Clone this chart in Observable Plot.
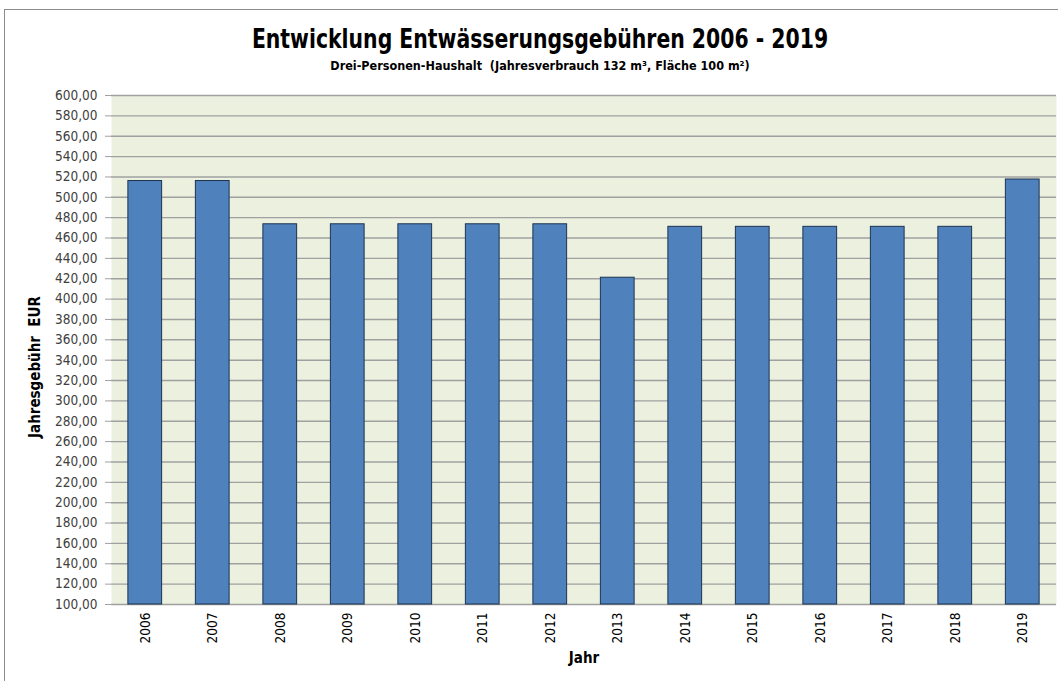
<!DOCTYPE html>
<html><head><meta charset="utf-8">
<script src="https://cdn.jsdelivr.net/npm/d3@7"></script>
<script src="https://cdn.jsdelivr.net/npm/@observablehq/plot@0.6"></script>
<style>
html,body{margin:0;padding:0;background:#fff;overflow:hidden;}
#wrap{position:relative;width:1058px;height:681px;}
#frame{position:absolute;left:4px;top:9px;width:1200px;height:800px;border-left:1.5px solid #8c8c8c;border-top:1.5px solid #8c8c8c;}
.ttl{position:absolute;left:0;width:1080px;text-align:center;font-family:"DejaVu Sans Condensed","Open Sans",sans-serif;font-weight:bold;color:#000;}
.ttl span{display:inline-block;transform-origin:center;}
#title{top:23px;font-size:27px;}
#title span{transform:scaleX(0.84);}
#sub{top:58px;font-size:12.5px;}
#chart{position:absolute;left:0;top:0;}
</style></head>
<body>
<div id="wrap">
<div id="frame"></div>
<div id="title" class="ttl"><span>Entwicklung Entwässerungsgebühren 2006 - 2019</span></div>
<div id="sub" class="ttl"><span>Drei-Personen-Haushalt&nbsp; (Jahresverbrauch 132 m³, Fläche 100 m²)</span></div>
<div id="chart"></div>
</div>
<script>
const years = ["2006","2007","2008","2009","2010","2011","2012","2013","2014","2015","2016","2017","2018","2019"];
const fees = [516, 516, 473.5, 473.5, 473.5, 473.5, 473.5, 421, 471, 471, 471, 471, 471, 517.5];
const yTicks = d3.range(100, 601, 20);
const yLabel = "Jahresgebühr  EUR";
const xLabel = "Jahr";

const data = years.map((y, i) => ({year: y, fee: fees[i]}));
const fmt = v => d3.format(".2f")(v).replace(".", ",");
const font = `"DejaVu Sans Condensed","Open Sans",sans-serif`;

const chart = Plot.plot({
  width: 1058,
  height: 681,
  marginTop: 95,
  marginBottom: 77,
  marginLeft: 111,
  marginRight: 2,
  style: {fontFamily: font, fontSize: "13.5px", color: "#404040", background: "transparent"},
  x: {domain: years, paddingInner: 0.5, paddingOuter: 0.25, align: 0.5, round: false},
  y: {domain: [100, 600]},
  marks: [
    Plot.frame({fill: "#EBF1DE", stroke: null}),
    Plot.ruleY(yTicks, {stroke: "#a0a0a0", strokeWidth: 1.4}),
    Plot.barY(data, {x: "year", y1: 100, y2: "fee", fill: "#4F81BD", stroke: "#1d3350", strokeWidth: 1}),
    Plot.axisY({ticks: yTicks, tickFormat: fmt, tickSize: 6, tickPadding: 8, stroke: "#a0a0a0", label: null}),
    Plot.axisX({tickRotate: -90, tickSize: 0, tickPadding: 8, label: null, fill: "#000"}),
    Plot.text([yLabel], {frameAnchor: "left", textAnchor: "middle", dx: -76, dy: 17, rotate: -90, fontWeight: "bold", fontSize: 15, fill: "#000"}),
    Plot.text([xLabel], {frameAnchor: "bottom", dy: 58, fontWeight: "bold", fontSize: 15, fill: "#000"})
  ]
});
document.getElementById("chart").appendChild(chart);
</script>
</body></html>
